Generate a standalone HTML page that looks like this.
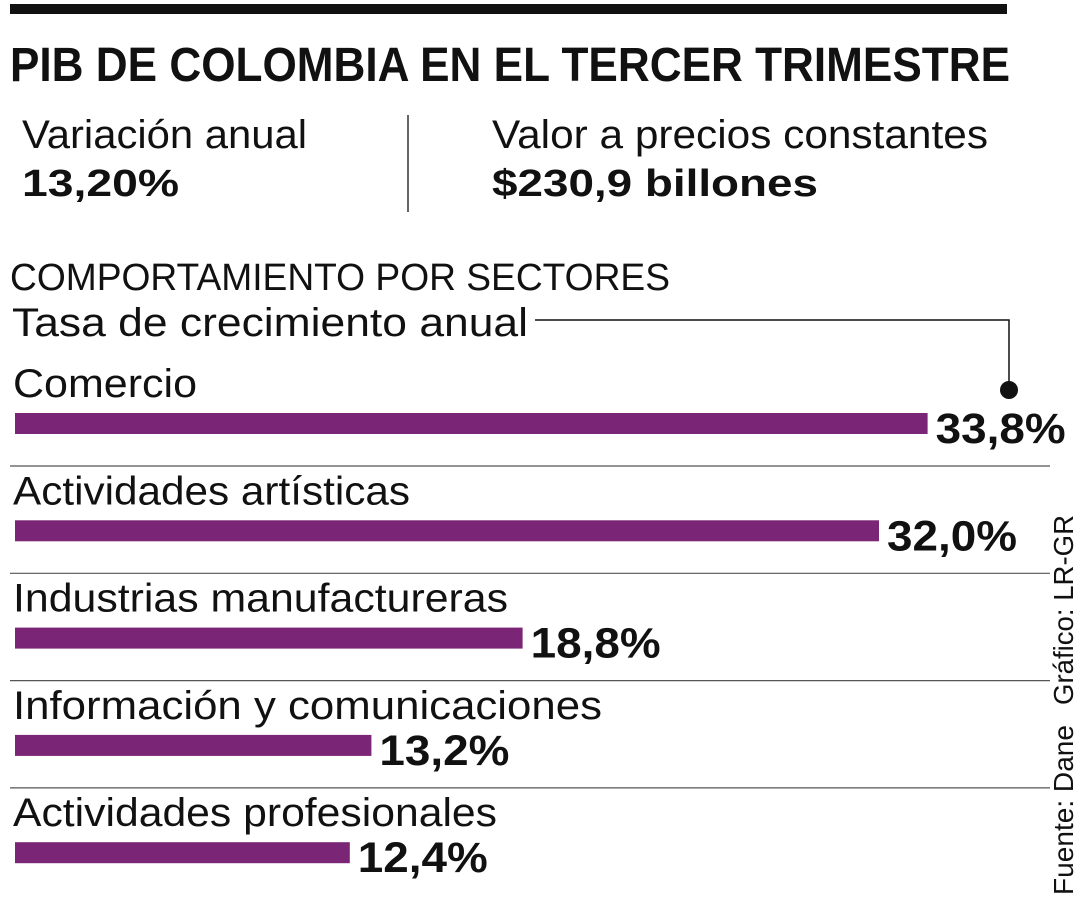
<!DOCTYPE html>
<html><head><meta charset="utf-8">
<style>
html,body{margin:0;padding:0;background:#fff;}
svg{display:block;font-family:"Liberation Sans",sans-serif;}
</style></head>
<body>
<svg width="1080" height="900" viewBox="0 0 1080 900" xmlns="http://www.w3.org/2000/svg">
<rect x="10" y="4" width="997" height="10" fill="#111"/>
<text x="10" y="81" font-size="48" font-weight="bold" fill="#111" textLength="1000" lengthAdjust="spacingAndGlyphs">PIB DE COLOMBIA EN EL TERCER TRIMESTRE</text>
<text x="22" y="148" font-size="40" fill="#111" textLength="285" lengthAdjust="spacingAndGlyphs">Variación anual</text>
<text x="22" y="196" font-size="38" font-weight="bold" fill="#111" textLength="157" lengthAdjust="spacingAndGlyphs">13,20%</text>
<line x1="408" y1="115" x2="408" y2="212" stroke="#333" stroke-width="1.5"/>
<text x="492" y="148" font-size="40" fill="#111" textLength="496" lengthAdjust="spacingAndGlyphs">Valor a precios constantes</text>
<text x="492" y="196" font-size="38" font-weight="bold" fill="#111" textLength="326" lengthAdjust="spacingAndGlyphs">$230,9 billones</text>
<text x="10" y="290" font-size="38" fill="#111" textLength="660" lengthAdjust="spacingAndGlyphs">COMPORTAMIENTO POR SECTORES</text>
<text x="12" y="336" font-size="40" fill="#111" textLength="516" lengthAdjust="spacingAndGlyphs">Tasa de crecimiento anual</text>
<polyline points="535,320 1009,320 1009,388" fill="none" stroke="#111" stroke-width="1.5"/>
<circle cx="1009" cy="390" r="9" fill="#111"/>
<g id="bars"></g>
<text transform="translate(1073,895) rotate(-90)" font-size="28" fill="#111" textLength="170" lengthAdjust="spacingAndGlyphs">Fuente: Dane</text>
<text transform="translate(1073,705) rotate(-90)" font-size="28" fill="#111" textLength="190" lengthAdjust="spacingAndGlyphs">Gráfico: LR-GR</text>
</svg>
<script>
const categories=["Comercio","Actividades artísticas","Industrias manufactureras","Información y comunicaciones","Actividades profesionales"];
const values=[33.8,32.0,18.8,13.2,12.4];
const valueLabels=["33,8%","32,0%","18,8%","13,2%","12,4%"];
const labelWidthsPx=[184,397,495,589,484];
const NS="http://www.w3.org/2000/svg";
const g=document.getElementById("bars");
const x0=15, pxPer=27.0;
const xScale=v=>v*pxPer;
const rowY=i=>413+i*107.3;
categories.forEach((c,i)=>{
  const y=rowY(i);
  const t=document.createElementNS(NS,"text");
  
  
  t.setAttribute("x",13);t.setAttribute("y",y-16);t.setAttribute("font-size","40");t.setAttribute("fill","#111");
  t.setAttribute("textLength",labelWidthsPx[i]);t.setAttribute("lengthAdjust","spacingAndGlyphs");
  t.textContent=c;g.appendChild(t);
  const r=document.createElementNS(NS,"rect");
  
  
  const w=xScale(values[i]);
  r.setAttribute("x",x0);r.setAttribute("y",y);r.setAttribute("width",w);r.setAttribute("height",21);r.setAttribute("fill","#7a2575");
  g.appendChild(r);
  const v=document.createElementNS(NS,"text");
  
  
  v.setAttribute("x",x0+w+8);v.setAttribute("y",y+30);v.setAttribute("font-size","43");v.setAttribute("font-weight","bold");v.setAttribute("fill","#111");
  v.setAttribute("textLength","130");v.setAttribute("lengthAdjust","spacingAndGlyphs");
  v.textContent=valueLabels[i];g.appendChild(v);
  if(i<categories.length-1){
    const l=document.createElementNS(NS,"line");
    
    
    l.setAttribute("x1",10);l.setAttribute("x2",1050);l.setAttribute("y1",y+53);l.setAttribute("y2",y+53);
    l.setAttribute("stroke","#555");l.setAttribute("stroke-width","1.2");g.appendChild(l);
  }
});
</script>
</body></html>
